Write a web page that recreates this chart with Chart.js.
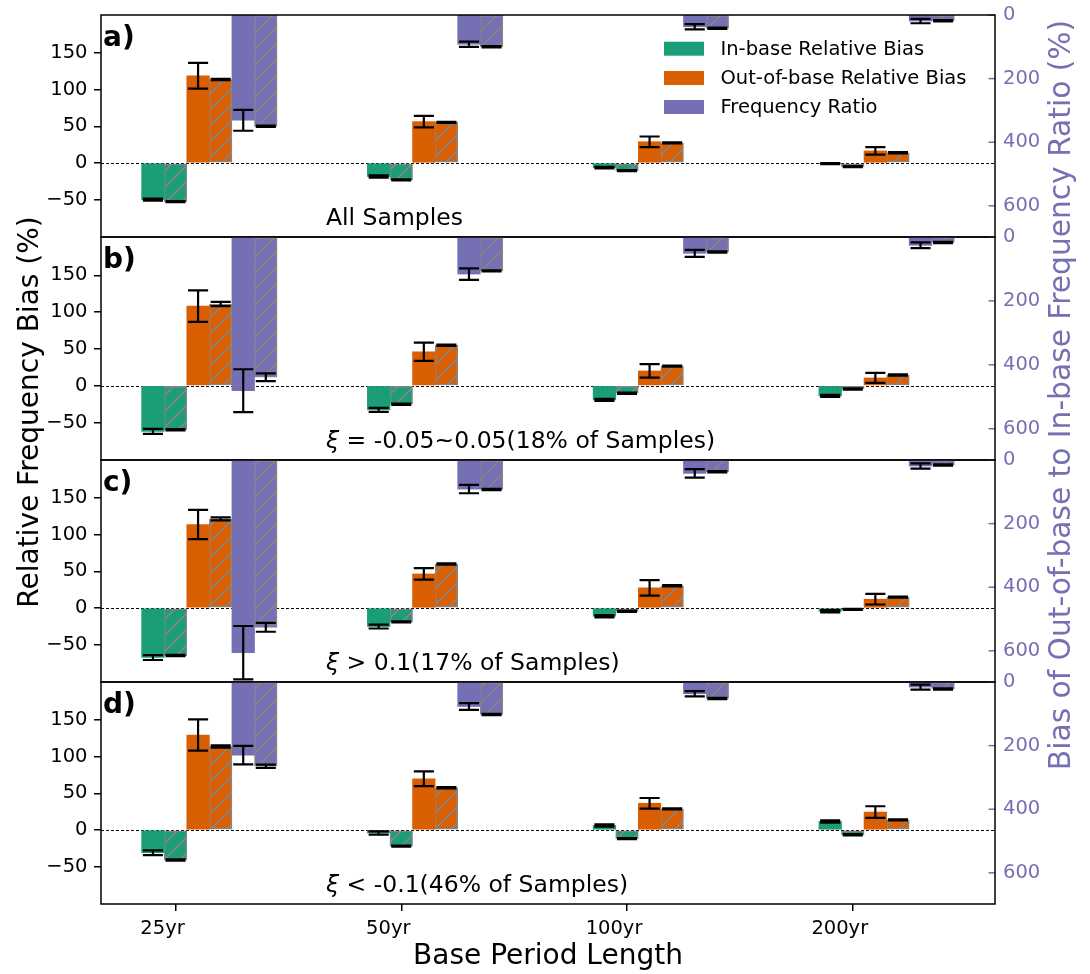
<!DOCTYPE html>
<html>
<head>
<meta charset="utf-8">
<script src="https://cdn.jsdelivr.net/npm/chart.js@4.4.1/dist/chart.umd.min.js"></script>
<style>
html,body{margin:0;padding:0;background:#ffffff;}
#wrap{position:relative;width:1090px;height:974px;overflow:hidden;background:#fff;}
#wrap canvas{position:absolute;left:0;top:0;}
</style>
</head>
<body>
<div id="wrap">
<canvas id="cA" width="1090" height="974"></canvas>
<canvas id="cB" width="1090" height="974"></canvas>
<canvas id="cC" width="1090" height="974"></canvas>
<canvas id="cD" width="1090" height="974"></canvas>
</div>
<script>
// ---------------- data ----------------
const categories = ['25yr', '50yr', '100yr', '200yr'];
const leftTicks = [-50, 0, 50, 100, 150];
const rightTicks = [0, 200, 400, 600];
const legendLabels = ['In-base Relative Bias', 'Out-of-base Relative Bias', 'Frequency Ratio'];
const panelLetters = ['a)', 'b)', 'c)', 'd)'];
const panelNotes = ['All Samples', 'ξ = -0.05~0.05(18% of Samples)', 'ξ > 0.1(17% of Samples)', 'ξ < -0.1(46% of Samples)'];
const leftTitle = 'Relative Frequency Bias (%)';
const rightTitle = 'Bias of Out-of-base to In-base Frequency Ratio (%)';
const xTitle = 'Base Period Length';

// panel a) All Samples
const aIn = [-50.0, -18.5, -6.3, -0.8];
const aInErr = [1.5, 1.5, 1.2, 0.8];
const aInH = [-52.7, -23.0, -10.4, -5.0];
const aInHErr = [0.8, 0.8, 0.8, 0.8];
const aOut = [119.0, 56.5, 29.0, 16.5];
const aOutErr = [17.6, 7.9, 7.2, 5.1];
const aOutH = [114.0, 55.4, 27.5, 14.0];
const aOutHErr = [0.8, 0.8, 0.8, 0.8];
const aRatio = [331, 92, 37, 19];
const aRatioErr = [33, 8.4, 8.4, 7];
const aRatioH = [350, 100, 42, 18];
const aRatioHErr = [2, 2, 2, 2];

// panel b) xi = -0.05~0.05
const bIn = [-62.2, -32.8, -19.3, -13.9];
const bInErr = [3.4, 2.7, 1.5, 1.5];
const bInH = [-59.9, -25.2, -10.3, -4.5];
const bInHErr = [0.8, 0.8, 0.8, 0.8];
const bOut = [108.0, 46.0, 20.0, 10.5];
const bOutErr = [21.4, 12.4, 9.2, 6.8];
const bOutH = [111.0, 55.0, 26.6, 14.5];
const bOutHErr = [2.9, 0.8, 0.8, 0.8];
const bRatio = [481, 116, 51, 26];
const bRatioErr = [67, 18, 11, 9];
const bRatioH = [439, 106, 47, 17];
const bRatioHErr = [12, 2, 2, 2];

// panel c) xi > 0.1
const cIn = [-67.6, -25.3, -11.2, -4.5];
const cInErr = [3.4, 2.7, 1.5, 1.5];
const cInH = [-64.9, -18.9, -4.5, -1.8];
const cInHErr = [0.8, 0.8, 0.8, 0.8];
const cOut = [114.0, 46.5, 27.5, 12.0];
const cOutErr = [19.9, 7.9, 10.6, 7.2];
const cOutH = [121.6, 60.0, 30.3, 14.9];
const cOutHErr = [2.0, 0.8, 0.8, 0.8];
const cRatio = [606, 91.5, 42, 19];
const cRatioErr = [84, 13, 13.6, 8.4];
const cRatioH = [526, 92.5, 37, 16];
const cRatioHErr = [14, 2, 2, 2];

// panel d) xi < -0.1
const dIn = [-31.0, -4.0, 6.2, 11.6];
const dInErr = [3.2, 2.2, 1.5, 1.5];
const dInH = [-41.0, -22.0, -11.8, -6.4];
const dInHErr = [0.8, 0.8, 0.8, 0.8];
const dOut = [129.7, 70.0, 36.5, 24.5];
const dOutErr = [21.4, 10.0, 7.2, 7.9];
const dOutH = [114.0, 57.6, 28.8, 13.9];
const dOutHErr = [1.5, 0.8, 0.8, 0.8];
const dRatio = [230, 77, 37, 16];
const dRatioErr = [29, 10.5, 8, 8];
const dRatioH = [265, 102, 52, 22];
const dRatioHErr = [5, 2, 2, 2];

// ---------------- styling / layout ----------------
const FONT = 'DejaVu Sans';
const GREEN = '#1b9e77', ORANGE = '#d95f02', PURPLE = '#7570b3';
const HATCH_GREY = '#858585';
const W = 1090, H = 974;
const PLOT_LEFT = 101, PLOT_RIGHT = 995;
const panelTops = [15, 237, 460, 682];
const panelBottoms = [237, 460, 682, 904];

Chart.defaults.font.family = FONT;

function hatchPattern(base) {
  const s = 16;
  const c = document.createElement('canvas');
  c.width = s; c.height = s;
  const g = c.getContext('2d');
  g.fillStyle = base; g.fillRect(0, 0, s, s);
  g.strokeStyle = HATCH_GREY; g.lineWidth = 1.6;
  g.beginPath();
  g.moveTo(-2, s + 2); g.lineTo(s + 2, -2);
  g.moveTo(-2, 2); g.lineTo(2, -2);
  g.moveTo(s - 2, s + 2); g.lineTo(s + 2, s - 2);
  g.stroke();
  return g.createPattern(c, 'repeat');
}

function makeDataset(values, errors, color, hatched, axisId, offset) {
  return {
    data: values.map((v, i) => ({ x: i + offset, y: v })),
    errors: errors,
    yAxisID: axisId,
    backgroundColor: hatched ? hatchPattern(color) : color,
    borderColor: hatched ? HATCH_GREY : color,
    borderWidth: hatched ? 1.5 : 0,
    borderSkipped: false,
    grouped: false,
    categoryPercentage: 1.0,
    barPercentage: 1.0
  };
}

const errorBarPlugin = {
  id: 'errorBars',
  afterDatasetsDraw(chart) {
    const ctx = chart.ctx;
    ctx.save();
    ctx.strokeStyle = '#000';
    ctx.lineWidth = 2.2;
    chart.data.datasets.forEach((d, di) => {
      const meta = chart.getDatasetMeta(di);
      const ys = chart.scales[d.yAxisID];
      meta.data.forEach((bar, i) => {
        const v = d.data[i].y, e = d.errors[i];
        const y1 = ys.getPixelForValue(v - e), y2 = ys.getPixelForValue(v + e);
        const x = bar.x, hw = bar.width * 0.445;
        ctx.beginPath();
        ctx.moveTo(x, y1); ctx.lineTo(x, y2);
        ctx.moveTo(x - hw, y1); ctx.lineTo(x + hw, y1);
        ctx.moveTo(x - hw, y2); ctx.lineTo(x + hw, y2);
        ctx.stroke();
      });
    });
    ctx.restore();
  }
};

const zeroLinePlugin = {
  id: 'zeroLine',
  beforeDatasetsDraw(chart) {
    const ctx = chart.ctx, a = chart.chartArea;
    const y = Math.round(chart.scales.y.getPixelForValue(0)) + 0.5;
    ctx.save();
    ctx.strokeStyle = '#000';
    ctx.lineWidth = 1;
    ctx.setLineDash([3, 2]);
    ctx.beginPath();
    ctx.moveTo(a.left, y); ctx.lineTo(a.right, y);
    ctx.stroke();
    ctx.restore();
  }
};

const fmtTick = v => (v < 0 ? '\u2212' + Math.abs(v) : String(v));

const framePlugin = {
  id: 'frame',
  afterDatasetsDraw(chart, args, opts) {
    const ctx = chart.ctx, a = chart.chartArea;
    ctx.save();
    // right axis: inward tick marks and left-aligned labels, placed by the scale
    const ys = chart.scales.y2;
    ctx.strokeStyle = PURPLE;
    ctx.fillStyle = PURPLE;
    ctx.lineWidth = 1.5;
    ctx.font = '19.5px "' + FONT + '"';
    ctx.textAlign = 'left';
    ctx.textBaseline = 'middle';
    ys.ticks.forEach(t => {
      const y = ys.getPixelForValue(t.value);
      ctx.beginPath();
      ctx.moveTo(a.right - 6.5, y); ctx.lineTo(a.right, y);
      ctx.stroke();
      ctx.fillText(fmtTick(t.value), a.right + 8, y);
    });
    ctx.strokeStyle = '#000';
    ctx.lineWidth = 1.5;
    ctx.strokeRect(a.left, a.top, a.right - a.left, a.bottom - a.top);
    // panel letter
    ctx.fillStyle = '#000';
    ctx.textBaseline = 'alphabetic';
    ctx.textAlign = 'left';
    ctx.font = 'bold 28px "' + FONT + '"';
    ctx.fillText(opts.letter, a.left + 2, a.top + 31);
    // panel note
    const nx = 326, ny = a.bottom - 12;
    ctx.font = '23.5px "' + FONT + '"';
    let text = opts.note;
    let x = nx;
    if (text.startsWith('ξ')) {
      ctx.font = 'italic 23.5px "' + FONT + '"';
      ctx.fillText('ξ', x, ny);
      x += ctx.measureText('ξ').width;
      text = text.slice(1);
      ctx.font = '23.5px "' + FONT + '"';
    }
    ctx.fillText(text, x, ny);
    // legend
    if (opts.legend) {
      const cols = [GREEN, ORANGE, PURPLE];
      const ys2 = [48.7, 78, 107];
      ctx.font = '19.5px "' + FONT + '"';
      ctx.textBaseline = 'middle';
      legendLabels.forEach((lab, i) => {
        ctx.fillStyle = cols[i];
        ctx.fillRect(664, ys2[i] - 7, 40, 14);
        ctx.fillStyle = '#000';
        ctx.fillText(lab, 720.5, ys2[i] + 1);
      });
    }
    // figure-level axis titles
    if (opts.figureTitles) {
      ctx.textAlign = 'center';
      ctx.textBaseline = 'middle';
      ctx.save();
      ctx.font = '28px "' + FONT + '"';
      ctx.translate(31, 412);
      ctx.rotate(-Math.PI / 2);
      ctx.fillStyle = '#000';
      ctx.fillText(leftTitle, 0, 0);
      ctx.restore();
      ctx.save();
      ctx.font = '29.7px "' + FONT + '"';
      ctx.translate(1062, 395);
      ctx.rotate(-Math.PI / 2);
      ctx.fillStyle = PURPLE;
      ctx.fillText(rightTitle, 0, 0);
      ctx.restore();
    }
    ctx.restore();
  }
};

function noPad(sc) {
  sc.paddingTop = 0; sc.paddingBottom = 0; sc.paddingLeft = 0; sc.paddingRight = 0;
}

function buildPanel(canvasId, idx, s) {
  const isBottom = idx === 3;
  const datasets = [
    makeDataset(s.inB, s.inBErr, GREEN, false, 'y', -0.1),
    makeDataset(s.inH, s.inHErr, GREEN, true, 'y', 0.0),
    makeDataset(s.out, s.outErr, ORANGE, false, 'y', 0.1),
    makeDataset(s.outH, s.outHErr, ORANGE, true, 'y', 0.2),
    makeDataset(s.ratio, s.ratioErr, PURPLE, false, 'y2', 0.3),
    makeDataset(s.ratioH, s.ratioHErr, PURPLE, true, 'y2', 0.4)
  ];
  return new Chart(document.getElementById(canvasId), {
    type: 'bar',
    data: { datasets },
    plugins: [zeroLinePlugin, errorBarPlugin, framePlugin],
    options: {
      responsive: false,
      animation: false,
      devicePixelRatio: 1,
      events: [],
      layout: { padding: { top: panelTops[idx], bottom: isBottom ? 0 : H - panelBottoms[idx], left: 0, right: 0 } },
      plugins: {
        legend: { display: false },
        tooltip: { enabled: false },
        frame: { letter: panelLetters[idx], note: panelNotes[idx], legend: idx === 0, figureTitles: isBottom }
      },
      scales: {
        x: {
          type: 'linear',
          offset: false,
          min: -0.33,
          max: 3.63,
          display: isBottom,
          afterBuildTicks: sc => { sc.ticks = categories.map((c, i) => ({ value: i })); },
          afterFit: sc => { noPad(sc); if (isBottom) sc.height = H - panelBottoms[3]; },
          ticks: {
            callback: v => categories[v],
            color: '#000',
            font: { size: 19.5, family: FONT },
            padding: 6,
            labelOffset: -13,
            maxRotation: 0,
            autoSkip: false
          },
          grid: { display: true, offset: false, drawOnChartArea: false, drawTicks: true, tickLength: 7, color: '#000', lineWidth: 1.5 },
          border: { display: false },
          title: { display: true, text: xTitle, color: '#000', font: { size: 28, family: FONT, lineHeight: 1.2 }, padding: { top: 0, bottom: 0 } }
        },
        y: {
          type: 'linear',
          position: 'left',
          min: -101,
          max: 202,
          afterBuildTicks: sc => { sc.ticks = leftTicks.map(v => ({ value: v })); },
          afterFit: sc => { noPad(sc); sc.width = PLOT_LEFT; },
          ticks: { color: '#000', font: { size: 19.5, family: FONT }, padding: 6.5, crossAlign: 'near', callback: fmtTick },
          grid: { display: true, drawOnChartArea: false, drawTicks: true, tickLength: 7, color: '#000', lineWidth: 1.5 },
          border: { display: false }
        },
        y2: {
          type: 'linear',
          position: 'right',
          reverse: true,
          min: 0,
          max: 698,
          afterBuildTicks: sc => { sc.ticks = rightTicks.map(v => ({ value: v })); },
          afterFit: sc => { noPad(sc); sc.width = W - PLOT_RIGHT; },
          ticks: { display: false, color: PURPLE, font: { size: 19.5, family: FONT }, callback: fmtTick },
          grid: { display: false },
          border: { display: false }
        }
      }
    }
  });
}

buildPanel('cA', 0, { inB: aIn, inBErr: aInErr, inH: aInH, inHErr: aInHErr, out: aOut, outErr: aOutErr, outH: aOutH, outHErr: aOutHErr, ratio: aRatio, ratioErr: aRatioErr, ratioH: aRatioH, ratioHErr: aRatioHErr });
buildPanel('cB', 1, { inB: bIn, inBErr: bInErr, inH: bInH, inHErr: bInHErr, out: bOut, outErr: bOutErr, outH: bOutH, outHErr: bOutHErr, ratio: bRatio, ratioErr: bRatioErr, ratioH: bRatioH, ratioHErr: bRatioHErr });
buildPanel('cC', 2, { inB: cIn, inBErr: cInErr, inH: cInH, inHErr: cInHErr, out: cOut, outErr: cOutErr, outH: cOutH, outHErr: cOutHErr, ratio: cRatio, ratioErr: cRatioErr, ratioH: cRatioH, ratioHErr: cRatioHErr });
buildPanel('cD', 3, { inB: dIn, inBErr: dInErr, inH: dInH, inHErr: dInHErr, out: dOut, outErr: dOutErr, outH: dOutH, outHErr: dOutHErr, ratio: dRatio, ratioErr: dRatioErr, ratioH: dRatioH, ratioHErr: dRatioHErr });
</script>
</body>
</html>
